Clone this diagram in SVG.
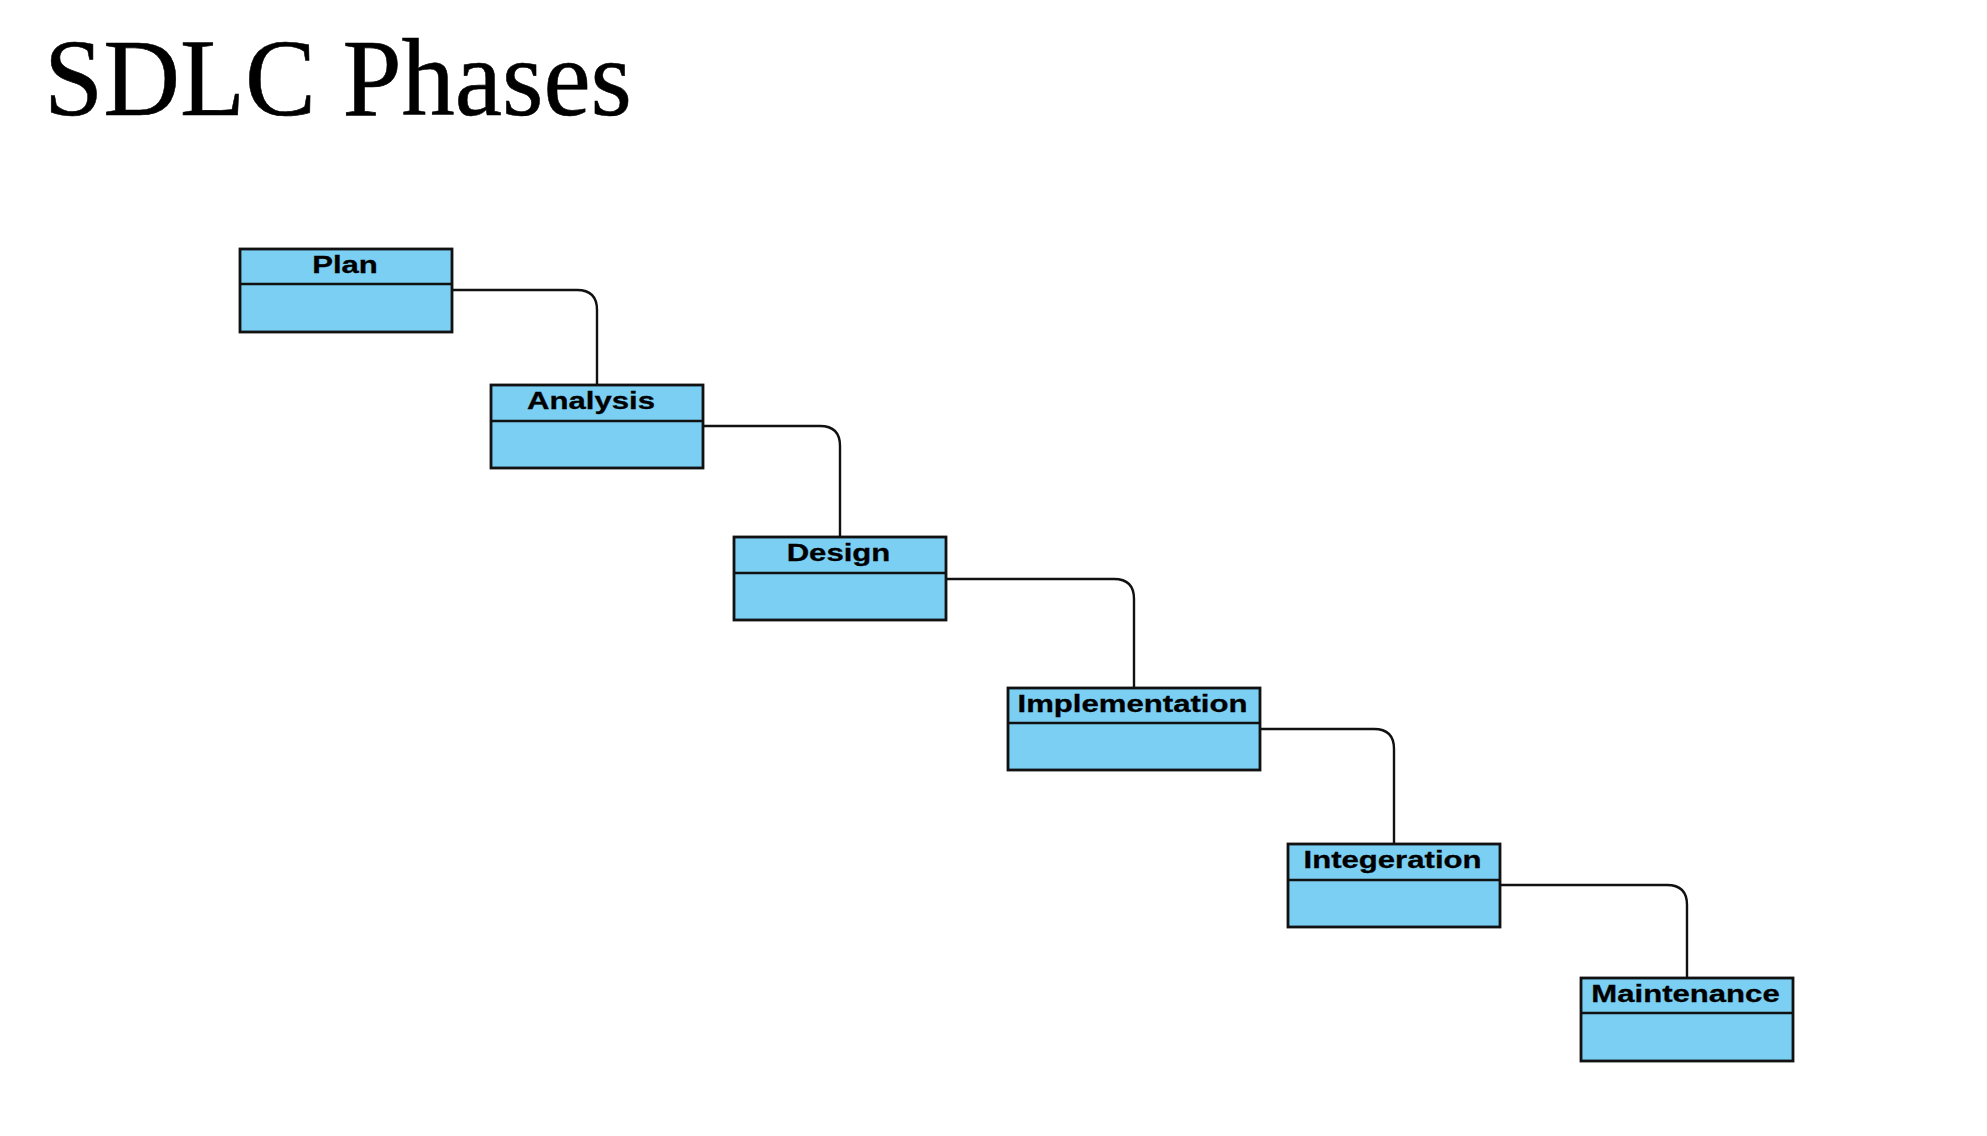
<svg xmlns="http://www.w3.org/2000/svg" width="1987" height="1136" viewBox="0 0 1987 1136">
<style>
.box{fill:#7acff3;stroke:#111;stroke-width:2.8}
.div{stroke:#111;stroke-width:2.6}
.lbl{font-family:"Liberation Sans",Arial,sans-serif;font-weight:bold;font-size:24.5px;fill:#000;text-anchor:middle;stroke:#000;stroke-width:0.3}
.con{fill:none;stroke:#111;stroke-width:2.4}
.title{font-family:"Liberation Serif","Times New Roman",serif;font-size:110px;fill:#000;stroke:#000;stroke-width:0.6}
</style>
<rect width="1987" height="1136" fill="#fff"/>
<text class="title" x="44" y="115" textLength="588" lengthAdjust="spacingAndGlyphs">SDLC Phases</text>
<g id="connectors">
<path class="con" d="M452,290 H577 Q597,290 597,310 V385"/>
<path class="con" d="M703,426 H820 Q840,426 840,446 V537"/>
<path class="con" d="M946,579 H1114 Q1134,579 1134,599 V688"/>
<path class="con" d="M1260,729 H1374 Q1394,729 1394,749 V844"/>
<path class="con" d="M1500,885 H1667 Q1687,885 1687,905 V978"/>
</g>
<g id="plan">
<rect class="box" x="240" y="249" width="212" height="83"/>
<line class="div" x1="240" y1="284" x2="452" y2="284"/>
<text class="lbl" transform="translate(345,273.3) scale(1.27,1)">Plan</text>
</g>
<g id="analysis">
<rect class="box" x="491" y="385" width="212" height="83"/>
<line class="div" x1="491" y1="421" x2="703" y2="421"/>
<text class="lbl" transform="translate(591,409.3) scale(1.27,1)">Analysis</text>
</g>
<g id="design">
<rect class="box" x="734" y="537" width="212" height="83"/>
<line class="div" x1="734" y1="573" x2="946" y2="573"/>
<text class="lbl" transform="translate(838.5,561.3) scale(1.27,1)">Design</text>
</g>
<g id="implementation">
<rect class="box" x="1008" y="688" width="252" height="82"/>
<line class="div" x1="1008" y1="723" x2="1260" y2="723"/>
<text class="lbl" transform="translate(1132.5,712.3) scale(1.27,1)">Implementation</text>
</g>
<g id="integration">
<rect class="box" x="1288" y="844" width="212" height="83"/>
<line class="div" x1="1288" y1="880" x2="1500" y2="880"/>
<text class="lbl" transform="translate(1392.5,868.3) scale(1.27,1)">Integeration</text>
</g>
<g id="maintenance">
<rect class="box" x="1581" y="978" width="212" height="83"/>
<line class="div" x1="1581" y1="1013" x2="1793" y2="1013"/>
<text class="lbl" transform="translate(1685.5,1002.3) scale(1.27,1)">Maintenance</text>
</g>
</svg>
